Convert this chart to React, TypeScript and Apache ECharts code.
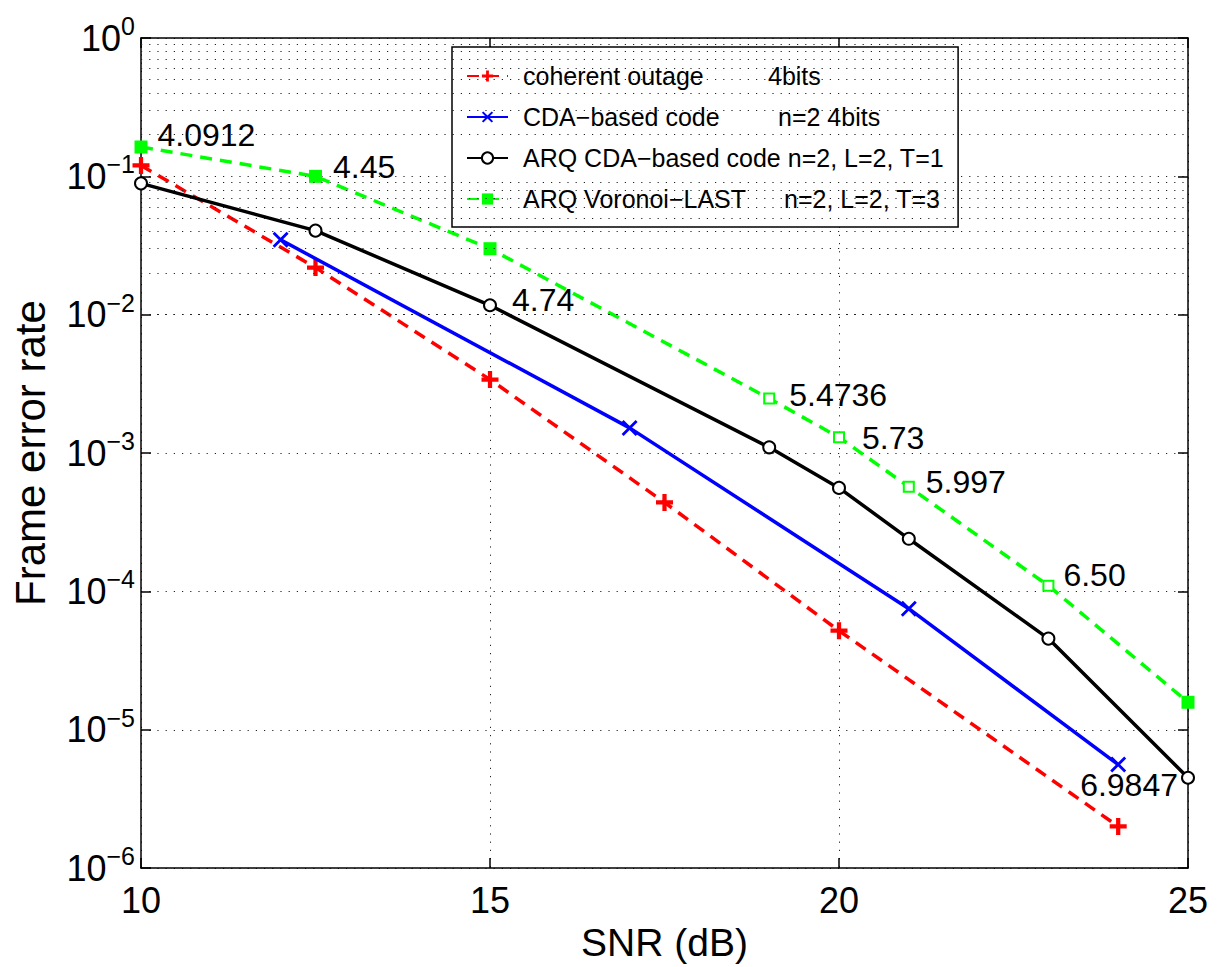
import React, { useEffect, useRef } from 'react';
import * as echarts from 'echarts';

// ---- data ----
const snrOutage = [10, 12.5, 15, 17.5, 20, 24];
const ferOutage = [0.12, 0.0219, 0.0034, 4.4e-4, 5.2e-5, 2.0e-6];
const snrCDA = [12, 17, 21, 24];
const ferCDA = [0.0348, 1.52e-3, 7.5e-5, 5.6e-6];
const snrARQ = [10, 12.5, 15, 19, 20, 21, 23, 25];
const ferARQ = [0.089, 0.0405, 0.0117, 1.1e-3, 5.6e-4, 2.4e-4, 4.56e-5, 4.5e-6];
const snrVor = [10, 12.5, 15, 19, 20, 21, 23, 25];
const ferVor = [0.163, 0.1, 0.03, 2.48e-3, 1.3e-3, 5.7e-4, 1.1e-4, 1.58e-5];
const vorHollow = [false, false, false, true, true, true, true, false];
const vorLabels = ['4.0912', '4.45', '', '5.4736', '5.73', '5.997', '6.50', ''];
const arqLabels = ['', '', '4.74', '', '', '', '', '6.9847'];
const seriesNames = ['coherent outage', 'CDA\u2212based code', 'ARQ CDA\u2212based code', 'ARQ Voronoi\u2212LAST'];
const seriesSuffix = ['4bits', 'n=2 4bits', 'n=2, L=2, T=1', 'n=2, L=2, T=3'];
const decades = [1e-6, 1e-5, 1e-4, 1e-3, 1e-2, 1e-1];
const minorMult = [2, 3, 4, 5, 6, 7, 8, 9];
const xMin = 10, xMax = 25, xStep = 5;
const yMin = 1e-6, yMax = 1;

const FONT = 'Liberation Sans, Arial, Helvetica, sans-serif';

const plusPath = 'path://M-2,-8 L2,-8 L2,-2 L8,-2 L8,2 L2,2 L2,8 L-2,8 L-2,2 L-8,2 L-8,-2 L-2,-2 Z';
const crossPath = 'path://M-8,-6 L-6,-8 L0,-2 L6,-8 L8,-6 L2,0 L8,6 L6,8 L0,2 L-6,8 L-8,6 L-2,0 Z';

// label placement (style, not data)
const vorLabelOffset: Record<number, [number, number]> = {
  0: [10, -12], 1: [11, -9], 3: [14, -3], 4: [17, 1], 5: [11, -5], 6: [9, -11],
};
const arqLabelOffset: Record<number, [number, number]> = { 2: [15, -5] };

function pair(xs: number[], ys: number[]) {
  return xs.map((x, i) => [x, ys[i]]);
}

export default function App() {
  const ref = useRef<HTMLDivElement>(null);
  useEffect(() => {
    if (!ref.current) return;
    const chart = echarts.init(ref.current, undefined, { renderer: 'svg' });

    const minorGrid: any[] = [];
    decades.forEach((d) => minorMult.forEach((m) => minorGrid.push({ yAxis: d * m })));

    const labelText = { fontFamily: FONT, fontSize: 32, color: '#000' };

    const vorData = snrVor.map((x, i) => {
      const item: any = { value: [x, ferVor[i]] };
      if (vorHollow[i]) {
        item.symbol = 'emptyRect';
        item.symbolSize = 10;
        item.itemStyle = { color: '#00ff00', borderColor: '#00ff00', borderWidth: 4 };
      }
      if (vorLabels[i]) {
        item.label = {
          show: true, formatter: vorLabels[i], position: 'right', distance: 0,
          offset: vorLabelOffset[i] || [0, 0], ...labelText,
        };
      }
      return item;
    });

    const arqData = snrARQ.map((x, i) => {
      const item: any = { value: [x, ferARQ[i]] };
      if (arqLabels[i]) {
        if (i === snrARQ.length - 1) {
          item.label = { show: true, formatter: arqLabels[i], position: 'left', distance: 0, offset: [-3, 7], ...labelText };
        } else {
          item.label = { show: true, formatter: arqLabels[i], position: 'right', distance: 0, offset: arqLabelOffset[i] || [0, 0], ...labelText };
        }
      }
      return item;
    });

    const LF = 25;
    const richLegend: any = {
      a0: { width: 245, fontFamily: FONT, fontSize: LF, color: '#000' },
      a1: { width: 255, fontFamily: FONT, fontSize: LF, color: '#000' },
      a2: { fontFamily: FONT, fontSize: LF, color: '#000' },
      a3: { width: 261, fontFamily: FONT, fontSize: LF, color: '#000' },
      s: { fontFamily: FONT, fontSize: LF, color: '#000' },
    };

    const option: any = {
      animation: false,
      backgroundColor: '#fff',
      grid: { left: 141, top: 38, width: 1047, height: 839, containLabel: false },
      legend: {
        orient: 'vertical',
        left: 452,
        top: 47,
        width: 497,
        padding: [14, 14, 13, 14],
        itemGap: 11,
        itemWidth: 41,
        itemHeight: 14,
        backgroundColor: '#fff',
        borderColor: '#000',
        borderWidth: 1.5,
        data: seriesNames,
        textStyle: { fontFamily: FONT, fontSize: LF, color: '#000', lineHeight: 30, padding: [0, 0, 0, 10], rich: richLegend },
        formatter: (name: string) => {
          const i = seriesNames.indexOf(name);
          if (i === 2) return `{a2|${name} ${seriesSuffix[i]}}`;
          return `{a${i}|${name}}{s|${seriesSuffix[i]}}`;
        },
      },
      xAxis: [
        {
          type: 'value', min: xMin, max: xMax, interval: xStep,
          name: 'SNR (dB)', nameLocation: 'middle', nameGap: 50,
          nameTextStyle: { fontFamily: FONT, fontSize: 39, color: '#000' },
          axisLine: { show: true, lineStyle: { color: '#000', width: 1.5 } },
          axisTick: { show: true, inside: true, length: 10, lineStyle: { color: '#000', width: 1.5 } },
          axisLabel: { fontFamily: FONT, fontSize: 36, color: '#000', margin: 14 },
          splitLine: { show: true, lineStyle: { color: '#222', width: 1, type: [1.2, 7] } },
        },
        {
          type: 'value', min: xMin, max: xMax, interval: xStep, position: 'top',
          axisLine: { show: true, lineStyle: { color: '#000', width: 1.5 } },
          axisTick: { show: true, inside: true, length: 10, lineStyle: { color: '#000', width: 1.5 } },
          axisLabel: { show: false },
          splitLine: { show: false },
        },
      ],
      yAxis: [
        {
          type: 'log', logBase: 10, min: yMin, max: yMax, interval: 1,
          name: 'Frame error rate', nameLocation: 'middle', nameGap: 90,
          nameTextStyle: { fontFamily: FONT, fontSize: 42, color: '#000' },
          axisLine: { show: true, lineStyle: { color: '#000', width: 1.5 } },
          axisTick: { show: true, inside: true, length: 10, lineStyle: { color: '#000', width: 1.5 } },
          axisLabel: {
            margin: 6,
            formatter: (v: number) => {
              const e = Math.round(Math.log10(v));
              const s = e === 0 ? '0' : '\u2212' + (-e);
              return `{b|10}{s|${s}}`;
            },
            rich: {
              b: { fontFamily: FONT, fontSize: 36, color: '#000' },
              s: { fontFamily: FONT, fontSize: 25, color: '#000', verticalAlign: 'bottom', padding: [0, 0, 24, 0] },
            },
          },
          splitLine: { show: true, lineStyle: { color: '#222', width: 1, type: [1.2, 7] } },
        },
        {
          type: 'log', logBase: 10, min: yMin, max: yMax, interval: 1, position: 'right',
          axisLine: { show: true, lineStyle: { color: '#000', width: 1.5 } },
          axisTick: { show: true, inside: true, length: 10, lineStyle: { color: '#000', width: 1.5 } },
          axisLabel: { show: false },
          splitLine: { show: false },
        },
      ],
      series: [
        {
          name: 'grid-minor', type: 'line', data: [], silent: true,
          markLine: {
            silent: true, symbol: ['none', 'none'], label: { show: false },
            lineStyle: { color: '#222', width: 1, type: [1.2, 7] },
            data: minorGrid,
          },
        },
        {
          name: seriesNames[0], type: 'line', data: pair(snrOutage, ferOutage),
          symbol: plusPath, symbolSize: 17, z: 3,
          lineStyle: { color: '#ff0000', width: 3.5, type: [12, 8] },
          itemStyle: { color: '#ff0000', borderWidth: 0 },
        },
        {
          name: seriesNames[1], type: 'line', data: pair(snrCDA, ferCDA),
          symbol: crossPath, symbolSize: 16, z: 4,
          lineStyle: { color: '#0000ff', width: 3.5 },
          itemStyle: { color: '#0000ff', borderWidth: 0 },
        },
        {
          name: seriesNames[2], type: 'line', data: arqData,
          symbol: 'emptyCircle', symbolSize: 12, z: 5,
          lineStyle: { color: '#000', width: 3.5 },
          itemStyle: { color: '#000', borderColor: '#000', borderWidth: 4 },
        },
        {
          name: seriesNames[3], type: 'line', data: vorData,
          symbol: 'rect', symbolSize: 13, z: 2,
          lineStyle: { color: '#00ff00', width: 3.5, type: [12, 8] },
          itemStyle: { color: '#00ff00', borderWidth: 0 },
        },
      ],
    };
    chart.setOption(option);
    return () => chart.dispose();
  }, []);
  return <div ref={ref} style={{ position: 'absolute', left: 0, top: 0, width: 1220, height: 967 }} />;
}
